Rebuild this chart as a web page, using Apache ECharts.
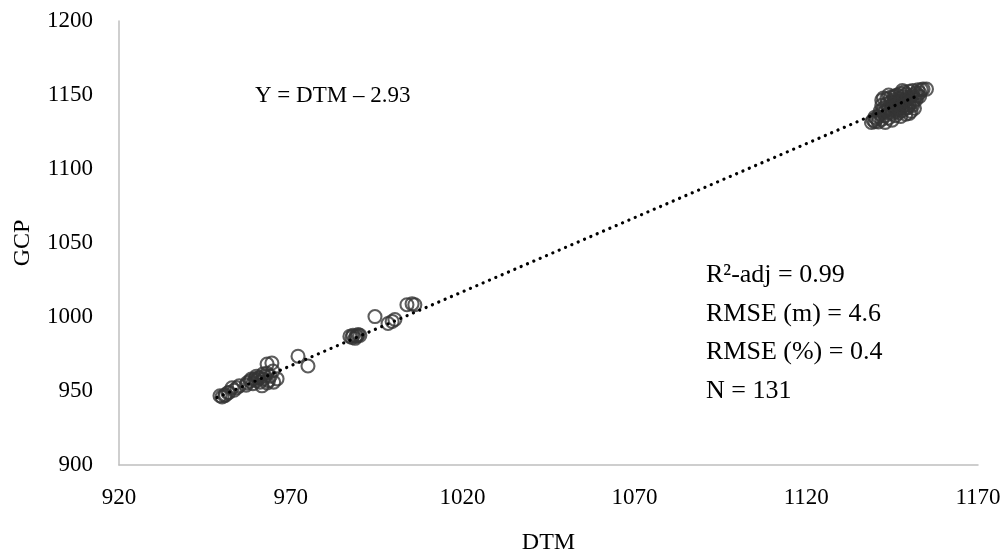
<!DOCTYPE html>
<html>
<head>
<meta charset="utf-8">
<script src="https://cdn.jsdelivr.net/npm/echarts@6/dist/echarts.min.js"></script>
<style>html,body{margin:0;padding:0;background:#fff}#c{width:1006px;height:560px}</style>
</head>
<body>
<div id="c"></div>
<script>
// Data: [DTM, GCP]
const lowerCluster = [
 [949.4,946.8],[950.8,946.8],[951.7,948.8],[952.9,952.2],[954.3,952.2],[957.3,955.5],
 [958.1,956.8],[959.6,958.2],[960.5,958.8],[961.9,961.5],[963.1,968.2],[964.5,968.9],
 [964.8,963.5],[966.0,958.2],[963.1,955.5],[961.6,953.5],[959,955],[960,957],[961,956],
 [962,958],[962.5,960],[963.5,957],[960,960],[958.5,958],[961,959],[963,962],[964,960],
 [965,956],[957,954],[955,953.5],[953.5,950.5],[951,947.5],[950,946],[952,949],
 [972.1,973.5],[975.0,966.9]
];
const middleCluster = [
 [987.2,986.9],[988.1,987.6],[989.0,986.9],[989.6,988.2],[990.1,987.6],[988.7,985.6],
 [987.8,986.2],[989.3,987.3],
 [994.5,1000.3],[998.3,995.6],[999.5,997.0],[1000.3,998.3],
 [1003.8,1008.3],[1005.3,1008.9],[1006.1,1008.3]
];
const upperCluster = [
 [1139.0,1131.5],[1139.5,1133],[1140,1132],[1140.5,1134],[1141,1135.5],[1141,1131.8],
 [1141.5,1137],[1142,1133.5],[1142,1146.5],[1142.5,1148],[1143,1136],[1143,1139],
 [1143.5,1147.5],[1144,1134.5],[1144,1141],[1144.5,1148.5],[1145,1137.5],[1145,1143],
 [1145.5,1149],[1146,1136],[1146,1140],[1146,1145],[1146.5,1150],[1147,1138],[1147,1142],
 [1147,1147.5],[1147.5,1151],[1148,1139.5],[1148,1144],[1148,1149],[1148.5,1152],
 [1149,1141],[1149,1146],[1149,1150.5],[1149.5,1141.5],[1150,1143],[1150,1147.5],
 [1150,1152.5],[1150.5,1139],[1151,1145],[1151,1150],[1151,1153],[1151.5,1141],
 [1152,1147],[1152,1151.5],[1152.5,1153.5],[1153,1149],[1153.5,1153.5],[1154,1154],
 [1155,1154],[1145,1133],[1143,1131.5],[1144.5,1145],[1142.5,1141],[1140,1135],
 [1141.5,1139],[1147.5,1135.5],[1149,1137],[1150,1137.5],[1146,1149.5],[1144,1150],
 [1148,1153],[1142,1143],[1143.5,1144],[1145.5,1146.5],[1146.5,1143.5],[1147.5,1145.5],
 [1148.5,1147],[1149.5,1148.5],[1150.5,1149],[1151.5,1147.5],[1152.5,1150],[1153,1151.5],
 [1144,1138],[1145,1140],[1146,1138.5],[1147,1140.5],[1148,1142],[1149,1143.5],
 [1150,1145],[1151,1143]
];
const fitLine = [[948.5,945.57],[1153,1150.07]];
const xTicks = [920, 970, 1020, 1070, 1120, 1170];
const yTicks = [900, 950, 1000, 1050, 1100, 1150, 1200];
const equationText = 'Y = DTM \u2013 2.93';
const statsText = ['R\u00b2-adj = 0.99', 'RMSE (m) = 4.6', 'RMSE (%) = 0.4', 'N = 131'];

const FONT = '"Liberation Serif", "DejaVu Serif", serif';
const chart = echarts.init(document.getElementById('c'));
chart.setOption({
  animation: false,
  backgroundColor: '#ffffff',
  grid: {left: 119, right: 28, top: 21, bottom: 90},
  xAxis: {
    type: 'value', min: xTicks[0], max: xTicks[xTicks.length-1], interval: 50,
    name: 'DTM', nameLocation: 'middle', nameGap: 66,
    nameTextStyle: {fontFamily: FONT, fontSize: 24, color: '#000'},
    axisLine: {show: true, lineStyle: {color: '#bfbfbf', width: 1.5}},
    axisTick: {show: false}, splitLine: {show: false},
    axisLabel: {fontFamily: FONT, fontSize: 23, color: '#000', margin: 21, formatter: v => String(v)}
  },
  yAxis: {
    type: 'value', min: yTicks[0], max: yTicks[yTicks.length-1], interval: 50,
    name: 'GCP', nameLocation: 'middle', nameGap: 84, nameRotate: 90,
    nameTextStyle: {fontFamily: FONT, fontSize: 24, color: '#000'},
    axisLine: {show: true, lineStyle: {color: '#bfbfbf', width: 1.5}},
    axisTick: {show: false}, splitLine: {show: false},
    axisLabel: {fontFamily: FONT, fontSize: 23, color: '#000', margin: 26, formatter: v => String(v)}
  },
  series: [
    {
      type: 'line', data: fitLine, symbol: 'none', z: 3,
      lineStyle: {color: '#000', width: 3.2, type: [0.1, 6.8], cap: 'round'}
    },
    {
      type: 'scatter', data: lowerCluster.concat(middleCluster, upperCluster),
      symbol: 'circle', symbolSize: 13, z: 2,
      itemStyle: {color: 'rgba(0,0,0,0)', borderColor: '#353535', borderWidth: 2.1}
    }
  ],
  graphic: [
    {type: 'text', left: 255, top: 84, style: {text: equationText, font: '23px ' + FONT, fill: '#000'}},
    {type: 'text', left: 706, top: 256, style: {text: statsText.join('\n'), font: '26px ' + FONT, fill: '#000', lineHeight: 38.5}}
  ]
});
</script>
</body>
</html>
